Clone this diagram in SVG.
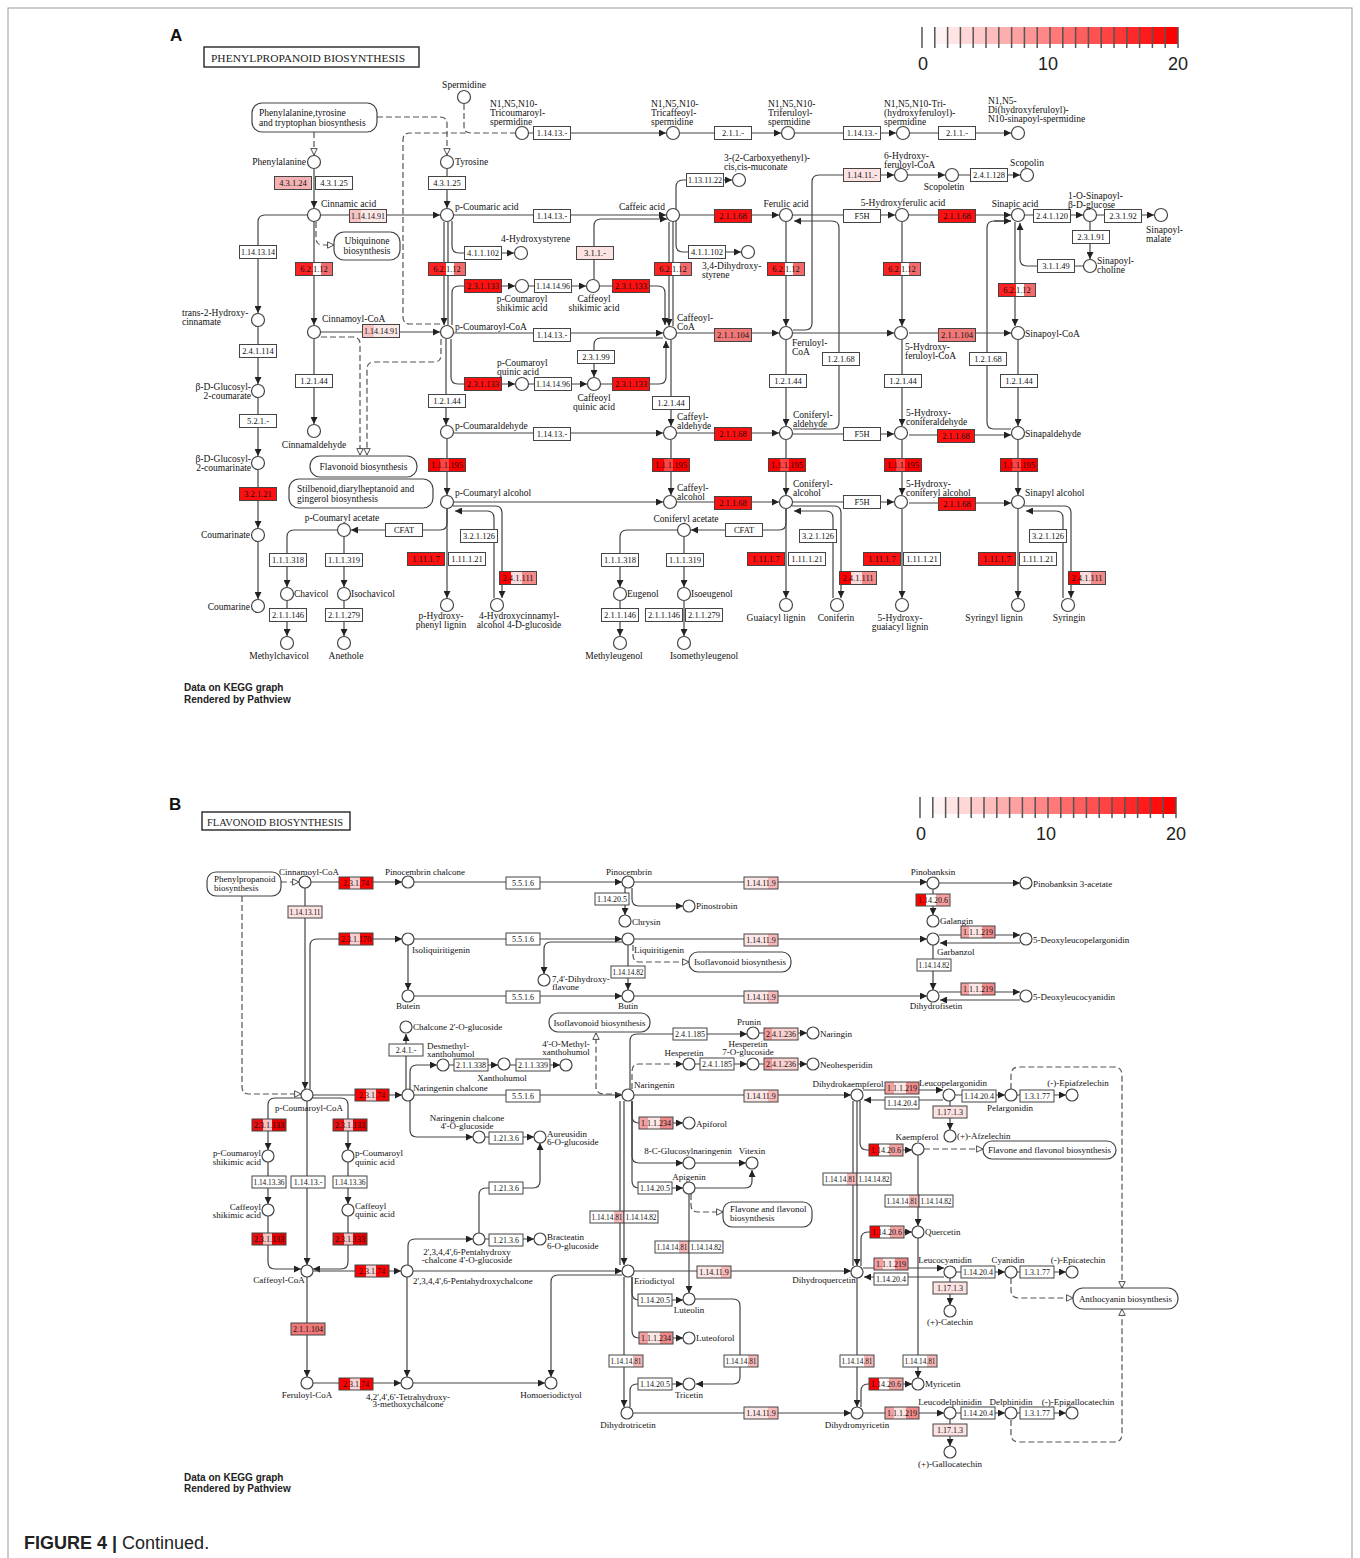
<svg xmlns="http://www.w3.org/2000/svg" xmlns:xlink="http://www.w3.org/1999/xlink" width="1360" height="1558" viewBox="0 0 1360 1558">
<style>
.ln{fill:none;stroke:#444;stroke-width:1.2}
.ds{fill:none;stroke:#555;stroke-width:1.2;stroke-dasharray:6,3}
.a{marker-end:url(#ar)}
.o{marker-end:url(#ao)}
.n circle{fill:#fff;stroke:#444;stroke-width:1.2}
.e rect{stroke:#444;stroke-width:1}
.e text{font-family:"Liberation Serif",serif;font-size:8.5px;text-anchor:middle;fill:#111}
.eb text{font-size:8px}
.l{font-family:"Liberation Serif",serif;font-size:9.5px;fill:#111}
.lb{font-family:"Liberation Serif",serif;font-size:9px;fill:#111}
.m{text-anchor:middle}
.r{text-anchor:end}
.mp rect{fill:#fff;stroke:#444;stroke-width:1.2}
.w{fill:#fff}.R{fill:#ff1010}.p{fill:#fde2e2}.s{fill:#f5b3b3}.S{fill:#f07878}
.k1{fill:url(#g6212)}.k2{fill:url(#g1195)}.k3{fill:url(#g241111)}.k4{fill:url(#g141491)}
.k5{fill:url(#g2374)}.k6{fill:url(#g23133)}.k7{fill:url(#g11419)}.k8{fill:url(#g14206)}
.k9{fill:url(#g1219)}.k11{fill:url(#g81)}.k12{fill:url(#g236)}
.tk{stroke:#555;stroke-width:1.5}
.lg{font-family:"Liberation Sans",Arial,sans-serif;font-size:18px;fill:#222;text-anchor:middle}
.kg{font-family:"Liberation Sans",Arial,sans-serif;font-size:10px;font-weight:bold;fill:#222}
</style>
<defs>
<marker id="ar" viewBox="0 0 8 8" refX="8" refY="4" markerWidth="7" markerHeight="7" markerUnits="userSpaceOnUse" orient="auto"><path d="M0,0 L8,4 L0,8 z" fill="#222"/></marker>
<marker id="ao" viewBox="0 0 10 10" refX="9" refY="5" markerWidth="8" markerHeight="8" markerUnits="userSpaceOnUse" orient="auto"><path d="M1,1 L9,5 L1,9 z" fill="#fff" stroke="#444" stroke-width="1.2"/></marker>
<linearGradient id="g6212"><stop offset="0" stop-color="#f22"/><stop offset=".48" stop-color="#f22"/><stop offset=".48" stop-color="#fff"/><stop offset=".7" stop-color="#fff"/><stop offset=".7" stop-color="#f46a6a"/><stop offset="1" stop-color="#f46a6a"/></linearGradient>
<linearGradient id="g1195"><stop offset="0" stop-color="#f00"/><stop offset=".3" stop-color="#f00"/><stop offset=".3" stop-color="#f44"/><stop offset=".55" stop-color="#f44"/><stop offset=".55" stop-color="#f00"/><stop offset="1" stop-color="#f00"/></linearGradient>
<linearGradient id="g241111"><stop offset="0" stop-color="#f00"/><stop offset=".3" stop-color="#f00"/><stop offset=".3" stop-color="#fbdcdc"/><stop offset=".6" stop-color="#fbdcdc"/><stop offset=".6" stop-color="#f28a8a"/><stop offset="1" stop-color="#f28a8a"/></linearGradient>
<linearGradient id="g141491"><stop offset="0" stop-color="#f7c2c2"/><stop offset=".3" stop-color="#f7c2c2"/><stop offset=".3" stop-color="#fde8e8"/><stop offset="1" stop-color="#fde8e8"/></linearGradient>
<linearGradient id="g2374"><stop offset="0" stop-color="#f00"/><stop offset=".33" stop-color="#f00"/><stop offset=".33" stop-color="#fcd0d0"/><stop offset=".62" stop-color="#fcd0d0"/><stop offset=".62" stop-color="#f00"/><stop offset="1" stop-color="#f00"/></linearGradient>
<linearGradient id="g23133"><stop offset="0" stop-color="#e81010"/><stop offset=".32" stop-color="#e81010"/><stop offset=".32" stop-color="#f9c4c4"/><stop offset=".6" stop-color="#f9c4c4"/><stop offset=".6" stop-color="#e80000"/><stop offset="1" stop-color="#e80000"/></linearGradient>
<linearGradient id="g11419"><stop offset="0" stop-color="#fde6e6"/><stop offset=".72" stop-color="#fde6e6"/><stop offset=".72" stop-color="#f8b8b8"/><stop offset="1" stop-color="#f8b8b8"/></linearGradient>
<linearGradient id="g14206"><stop offset="0" stop-color="#f00"/><stop offset=".3" stop-color="#f00"/><stop offset=".3" stop-color="#fff"/><stop offset=".6" stop-color="#fff"/><stop offset=".6" stop-color="#f4a0a0"/><stop offset="1" stop-color="#f4a0a0"/></linearGradient>
<linearGradient id="g1219"><stop offset="0" stop-color="#f4a0a0"/><stop offset=".25" stop-color="#f4a0a0"/><stop offset=".25" stop-color="#fde6e6"/><stop offset=".62" stop-color="#fde6e6"/><stop offset=".62" stop-color="#f08a8a"/><stop offset="1" stop-color="#f08a8a"/></linearGradient>
<linearGradient id="g81"><stop offset="0" stop-color="#fff"/><stop offset=".7" stop-color="#fff"/><stop offset=".7" stop-color="#f7b8b8"/><stop offset="1" stop-color="#f7b8b8"/></linearGradient>
<linearGradient id="g236"><stop offset="0" stop-color="#f29a9a"/><stop offset=".25" stop-color="#f29a9a"/><stop offset=".25" stop-color="#fbd0d0"/><stop offset="1" stop-color="#fbd0d0"/></linearGradient>
</defs>
<rect x="0" y="0" width="1360" height="1558" fill="#fff"/>
<rect x="8" y="8" width="1344" height="1570" fill="none" stroke="#999" stroke-width="1"/>

<!-- ============ PANEL A ============ -->
<text x="170" y="41" font-family="Liberation Sans,Arial,sans-serif" font-size="17" font-weight="bold" fill="#111">A</text>
<g id="titleA"><rect x="204" y="47" width="215" height="20" fill="#fff" stroke="#333" stroke-width="1.5"/><text x="211" y="61.5" font-family="Liberation Serif,serif" font-size="11" fill="#222" textLength="194" lengthAdjust="spacingAndGlyphs">PHENYLPROPANOID  BIOSYNTHESIS</text></g>

<g id="legendA">
<rect x="934.8" y="27" width="12.8" height="17" fill="#fff2f2"/><rect x="947.6" y="27" width="12.8" height="17" fill="#ffe4e4"/><rect x="960.4" y="27" width="12.8" height="17" fill="#ffd7d7"/><rect x="973.2" y="27" width="12.8" height="17" fill="#ffc9c9"/><rect x="986" y="27" width="12.8" height="17" fill="#ffbcbc"/><rect x="998.8" y="27" width="12.8" height="17" fill="#ffaeae"/><rect x="1011.6" y="27" width="12.8" height="17" fill="#ffa1a1"/><rect x="1024.4" y="27" width="12.8" height="17" fill="#ff9494"/><rect x="1037.2" y="27" width="12.8" height="17" fill="#ff8686"/><rect x="1050" y="27" width="12.8" height="17" fill="#ff7979"/><rect x="1062.8" y="27" width="12.8" height="17" fill="#ff6b6b"/><rect x="1075.6" y="27" width="12.8" height="17" fill="#ff5e5e"/><rect x="1088.4" y="27" width="12.8" height="17" fill="#ff5151"/><rect x="1101.2" y="27" width="12.8" height="17" fill="#ff4343"/><rect x="1114" y="27" width="12.8" height="17" fill="#ff3636"/><rect x="1126.8" y="27" width="12.8" height="17" fill="#ff2828"/><rect x="1139.6" y="27" width="12.8" height="17" fill="#ff1b1b"/><rect x="1152.4" y="27" width="12.8" height="17" fill="#ff0d0d"/><rect x="1165.2" y="27" width="12.8" height="17" fill="#ff0000"/>
<path class="tk" d="M922,27V48M934.8,27V48M947.6,27V48M960.4,27V48M973.2,27V48M986,27V48M998.8,27V48M1011.6,27V48M1024.4,27V48M1037.2,27V48M1050,27V48M1062.8,27V48M1075.6,27V48M1088.4,27V48M1101.2,27V48M1114,27V48M1126.8,27V48M1139.6,27V48M1152.4,27V48M1165.2,27V48M1178,27V48"/>
<text class="lg" x="923" y="70">0</text><text class="lg" x="1048" y="70">10</text><text class="lg" x="1178" y="70">20</text>
</g>

<g id="edgesA">
<path class="ds" d="M464,104V126Q464,133 471,133H515"/>
<path class="ds" d="M440,324H410Q403,324 403,317V140Q403,133 410,133H466"/>
<path class="ln a" d="M529,133H666"/>
<path class="ln a" d="M680,133H781"/>
<path class="ln a" d="M795,133H896"/>
<path class="ln a" d="M910,133H1011"/>
<path class="ds o" d="M314,132V155"/>
<path class="ds o" d="M377,117H440Q447,117 447,124V155"/>
<path class="ln a" d="M314,169V208"/>
<path class="ln a" d="M447,169V208"/>
<path class="ln a" d="M321,215H440"/>
<path class="ln a" d="M307,215H265Q258,215 258,222V313"/>
<path class="ds o" d="M316,222V238Q316,245 323,245H334"/>
<path class="ln a" d="M314,222V325"/>
<path class="ln a" d="M321,332H440"/>
<path class="ln a" d="M314,339V424"/>
<path class="ds o" d="M321,337H353Q360,337 360,344V455"/>
<path class="ds o" d="M441,339V355Q441,362 434,362H374Q367,362 367,369V455"/>
<path class="ln a" d="M444,222V325"/>
<path class="ln" d="M448,222V325"/>
<path class="ln a" d="M452,221V246Q452,253 459,253H514"/>
<path class="ln a" d="M452,325V293Q452,286 459,286H515"/>
<path class="ln a" d="M529,286H586"/>
<path class="ln a" d="M594,279V226Q594,219 601,219H667"/>
<path class="ln a" d="M600,286H658Q665,286 665,293V325"/>
<path class="ln a" d="M454,215H666"/>
<path class="ln a" d="M676,209V187Q676,180 683,180H732"/>
<path class="ln a" d="M676,221V245Q676,252 683,252H741"/>
<path class="ln a" d="M669,222V326"/>
<path class="ln" d="M673,222V326"/>
<path class="ln a" d="M680,215H779"/>
<path class="ln a" d="M793,215H895"/>
<path class="ln a" d="M909,215H1011"/>
<path class="ln a" d="M1025,215H1083"/>
<path class="ln a" d="M1097,215H1154"/>
<path class="ln a" d="M1090,222V259"/>
<path class="ln a" d="M1083,266H1027Q1020,266 1020,259V223"/>
<path class="ln a" d="M1015,222V326"/>
<path class="ln a" d="M786,222V326"/>
<path class="ln a" d="M902,222V326"/>
<path class="ln a" d="M793,330H805Q812,330 812,323V182Q812,175 819,175H894"/>
<path class="ln a" d="M908,175H945"/>
<path class="ln a" d="M959,175H1020"/>
<path class="ln a" d="M793,429H832Q839,429 839,422V228Q839,221 832,221H794"/>
<path class="ln" d="M1011,429H994Q987,429 987,422V228Q987,221 994,221H1011"/>
<path class="ln a" d="M994,221H1011"/>
<path class="ln a" d="M454,333H663"/>
<path class="ln a" d="M663,338H601Q594,338 594,345V377"/>
<path class="ln a" d="M451,339V377Q451,384 458,384H515"/>
<path class="ln a" d="M529,384H587"/>
<path class="ln a" d="M601,384H659Q666,384 666,377V341"/>
<path class="ln a" d="M677,333H779"/>
<path class="ln a" d="M793,333H894"/>
<path class="ln a" d="M909,333H1011"/>
<path class="ln a" d="M446,339V425"/>
<path class="ln a" d="M671,340V426"/>
<path class="ln a" d="M786,340V426"/>
<path class="ln a" d="M902,340V426"/>
<path class="ln a" d="M1018,340V426"/>
<path class="ln a" d="M454,433H663"/>
<path class="ln a" d="M677,433H779"/>
<path class="ln a" d="M793,434H894"/>
<path class="ln a" d="M909,435H1011"/>
<path class="ln a" d="M447,439V495"/>
<path class="ln a" d="M671,440V495"/>
<path class="ln a" d="M786,440V495"/>
<path class="ln a" d="M902,440V495"/>
<path class="ln a" d="M1018,440V495"/>
<path class="ln a" d="M454,502H663"/>
<path class="ln a" d="M677,502H779"/>
<path class="ln a" d="M793,502H894"/>
<path class="ln a" d="M909,503H1011"/>
<path class="ln a" d="M447,509V523Q447,530 440,530H351"/>
<path class="ln a" d="M337,530H294Q287,530 287,537V587"/>
<path class="ln a" d="M344,537V587"/>
<path class="ln a" d="M287,601V636"/>
<path class="ln a" d="M344,601V636"/>
<path class="ln a" d="M447,509V598"/>
<path class="ln a" d="M453,506H495Q502,506 502,513V598"/>
<path class="ln a" d="M494,598V518Q494,511 487,511H455"/>
<path class="ln a" d="M786,509V523Q786,530 779,530H691"/>
<path class="ln a" d="M677,530H627Q620,530 620,537V587"/>
<path class="ln a" d="M684,537V587"/>
<path class="ln a" d="M620,601V636"/>
<path class="ln a" d="M684,601V636"/>
<path class="ln a" d="M786,509V598"/>
<path class="ln a" d="M792,506H834Q841,506 841,513V598"/>
<path class="ln a" d="M833,598V518Q833,511 826,511H794"/>
<path class="ln a" d="M902,509V598"/>
<path class="ln a" d="M1018,509V598"/>
<path class="ln a" d="M1024,506H1064Q1071,506 1071,513V598"/>
<path class="ln a" d="M1063,598V518Q1063,511 1056,511H1026"/>
<path class="ln a" d="M258,327V384"/>
<path class="ln a" d="M258,398V456"/>
<path class="ln a" d="M258,470V528"/>
<path class="ln a" d="M258,542V599"/>
</g>

<g id="mapsA" class="mp">
<g id="mapPheTyr"><rect x="252" y="103" width="125" height="29" rx="10"/><text class="l" x="259" y="116">Phenylalanine,tyrosine</text><text class="l" x="259" y="126">and tryptophan biosynthesis</text></g>
<g id="mapUbiquinone"><rect x="334" y="232" width="66" height="28" rx="10"/><text class="l m" x="367" y="244">Ubiquinone</text><text class="l m" x="367" y="254">biosynthesis</text></g>
<g id="mapFlavonoidA"><rect x="310" y="456" width="107" height="21" rx="10"/><text class="l m" x="363.5" y="470">Flavonoid biosynthesis</text></g>
<g id="mapStilbenoid"><rect x="289" y="479" width="144" height="29" rx="10"/><text class="l" x="297" y="492">Stilbenoid,diarylheptanoid and</text><text class="l" x="297" y="502">gingerol biosynthesis</text></g>
</g>

<g id="enzymesA" class="e">
<g id="eA1"><rect class="w" x="533.5" y="126.5" width="37" height="13"/><text x="552" y="136">1.14.13.-</text></g>
<g id="eA2"><rect class="w" x="714.5" y="126.5" width="37" height="13"/><text x="733" y="136">2.1.1.-</text></g>
<g id="eA3"><rect class="w" x="843.5" y="126.5" width="37" height="13"/><text x="862" y="136">1.14.13.-</text></g>
<g id="eA4"><rect class="w" x="938.5" y="126.5" width="37" height="13"/><text x="957" y="136">2.1.1.-</text></g>
<g id="eA5"><rect class="s" x="274.5" y="176.5" width="37" height="13"/><text x="293" y="186">4.3.1.24</text></g>
<g id="eA6"><rect class="w" x="315.5" y="176.5" width="37" height="13"/><text x="334" y="186">4.3.1.25</text></g>
<g id="eA7"><rect class="w" x="428.5" y="176.5" width="37" height="13"/><text x="447" y="186">4.3.1.25</text></g>
<g id="eA8"><rect class="k4" x="349.5" y="209.5" width="37" height="13"/><text x="368" y="219" textLength="34" lengthAdjust="spacingAndGlyphs">1.14.14.91</text></g>
<g id="eA9"><rect class="w" x="239.5" y="245.5" width="37" height="13"/><text x="258" y="255" textLength="34" lengthAdjust="spacingAndGlyphs">1.14.13.14</text></g>
<g id="eA10"><rect class="k1" x="295.5" y="262.5" width="37" height="13"/><text x="314" y="272">6.2.1.12</text></g>
<g id="eA11"><rect class="k1" x="428.5" y="262.5" width="37" height="13"/><text x="447" y="272">6.2.1.12</text></g>
<g id="eA12"><rect class="w" x="464.5" y="246.5" width="37" height="13"/><text x="483" y="256">4.1.1.102</text></g>
<g id="eA13"><rect class="R" x="464.5" y="279.5" width="37" height="13"/><text x="483" y="289">2.3.1.133</text></g>
<g id="eA14"><rect class="w" x="534.5" y="279.5" width="37" height="13"/><text x="553" y="289" textLength="34" lengthAdjust="spacingAndGlyphs">1.14.14.96</text></g>
<g id="eA15"><rect class="p" x="576.5" y="246.5" width="37" height="13"/><text x="595" y="256">3.1.1.-</text></g>
<g id="eA16"><rect class="R" x="612.5" y="279.5" width="37" height="13"/><text x="631" y="289">2.3.1.133</text></g>
<g id="eA17"><rect class="w" x="533.5" y="209.5" width="37" height="13"/><text x="552" y="219">1.14.13.-</text></g>
<g id="eA18"><rect class="w" x="686.5" y="173.5" width="37" height="13"/><text x="705" y="183" textLength="34" lengthAdjust="spacingAndGlyphs">1.13.11.22</text></g>
<g id="eA19"><rect class="w" x="688.5" y="245.5" width="37" height="13"/><text x="707" y="255">4.1.1.102</text></g>
<g id="eA20"><rect class="k1" x="654.5" y="262.5" width="37" height="13"/><text x="673" y="272">6.2.1.12</text></g>
<g id="eA21"><rect class="R" x="714.5" y="209.5" width="37" height="13"/><text x="733" y="219">2.1.1.68</text></g>
<g id="eA22"><rect class="w" x="843.5" y="209.5" width="37" height="13"/><text x="862" y="219">F5H</text></g>
<g id="eA23"><rect class="R" x="938.5" y="209.5" width="37" height="13"/><text x="957" y="219">2.1.1.68</text></g>
<g id="eA24"><rect class="w" x="1033.5" y="209.5" width="37" height="13"/><text x="1052" y="219">2.4.1.120</text></g>
<g id="eA25"><rect class="w" x="1104.5" y="209.5" width="37" height="13"/><text x="1123" y="219">2.3.1.92</text></g>
<g id="eA26"><rect class="w" x="1072.5" y="230.5" width="37" height="13"/><text x="1091" y="240">2.3.1.91</text></g>
<g id="eA27"><rect class="w" x="1037.5" y="259.5" width="37" height="13"/><text x="1056" y="269">3.1.1.49</text></g>
<g id="eA28"><rect class="k1" x="998.5" y="283.5" width="37" height="13"/><text x="1017" y="293">6.2.1.12</text></g>
<g id="eA29"><rect class="k1" x="767.5" y="262.5" width="37" height="13"/><text x="786" y="272">6.2.1.12</text></g>
<g id="eA30"><rect class="k1" x="883.5" y="262.5" width="37" height="13"/><text x="902" y="272">6.2.1.12</text></g>
<g id="eA31"><rect class="p" x="843.5" y="168.5" width="37" height="13"/><text x="862" y="178">1.14.11.-</text></g>
<g id="eA32"><rect class="w" x="970.5" y="168.5" width="37" height="13"/><text x="989" y="178">2.4.1.128</text></g>
<g id="eA33"><rect class="w" x="822.5" y="352.5" width="37" height="13"/><text x="841" y="362">1.2.1.68</text></g>
<g id="eA34"><rect class="w" x="969.5" y="352.5" width="37" height="13"/><text x="988" y="362">1.2.1.68</text></g>
<g id="eA35"><rect class="k4" x="362.5" y="324.5" width="37" height="13"/><text x="381" y="334" textLength="34" lengthAdjust="spacingAndGlyphs">1.14.14.91</text></g>
<g id="eA36"><rect class="w" x="295.5" y="374.5" width="37" height="13"/><text x="314" y="384">1.2.1.44</text></g>
<g id="eA37"><rect class="w" x="533.5" y="328.5" width="37" height="13"/><text x="552" y="338">1.14.13.-</text></g>
<g id="eA38"><rect class="w" x="577.5" y="350.5" width="37" height="13"/><text x="596" y="360">2.3.1.99</text></g>
<g id="eA39"><rect class="R" x="464.5" y="377.5" width="37" height="13"/><text x="483" y="387">2.3.1.133</text></g>
<g id="eA40"><rect class="w" x="534.5" y="377.5" width="37" height="13"/><text x="553" y="387" textLength="34" lengthAdjust="spacingAndGlyphs">1.14.14.96</text></g>
<g id="eA41"><rect class="R" x="612.5" y="377.5" width="37" height="13"/><text x="631" y="387">2.3.1.133</text></g>
<g id="eA42"><rect class="S" x="714.5" y="328.5" width="37" height="13"/><text x="733" y="338">2.1.1.104</text></g>
<g id="eA43"><rect class="S" x="938.5" y="328.5" width="37" height="13"/><text x="957" y="338">2.1.1.104</text></g>
<g id="eA44"><rect class="w" x="428.5" y="394.5" width="37" height="13"/><text x="447" y="404">1.2.1.44</text></g>
<g id="eA45"><rect class="w" x="652.5" y="396.5" width="37" height="13"/><text x="671" y="406">1.2.1.44</text></g>
<g id="eA46"><rect class="w" x="769.5" y="374.5" width="37" height="13"/><text x="788" y="384">1.2.1.44</text></g>
<g id="eA47"><rect class="w" x="884.5" y="374.5" width="37" height="13"/><text x="903" y="384">1.2.1.44</text></g>
<g id="eA48"><rect class="w" x="1000.5" y="374.5" width="37" height="13"/><text x="1019" y="384">1.2.1.44</text></g>
<g id="eA49"><rect class="w" x="533.5" y="427.5" width="37" height="13"/><text x="552" y="437">1.14.13.-</text></g>
<g id="eA50"><rect class="R" x="714.5" y="427.5" width="37" height="13"/><text x="733" y="437">2.1.1.68</text></g>
<g id="eA51"><rect class="w" x="843.5" y="427.5" width="37" height="13"/><text x="862" y="437">F5H</text></g>
<g id="eA52"><rect class="R" x="937.5" y="429.5" width="37" height="13"/><text x="956" y="439">2.1.1.68</text></g>
<g id="eA53"><rect class="k2" x="428.5" y="458.5" width="37" height="13"/><text x="447" y="468">1.1.1.195</text></g>
<g id="eA54"><rect class="k2" x="652.5" y="458.5" width="37" height="13"/><text x="671" y="468">1.1.1.195</text></g>
<g id="eA55"><rect class="k2" x="768.5" y="458.5" width="37" height="13"/><text x="787" y="468">1.1.1.195</text></g>
<g id="eA56"><rect class="k2" x="884.5" y="458.5" width="37" height="13"/><text x="903" y="468">1.1.1.195</text></g>
<g id="eA57"><rect class="k2" x="1000.5" y="458.5" width="37" height="13"/><text x="1019" y="468">1.1.1.195</text></g>
<g id="eA58"><rect class="R" x="714.5" y="496.5" width="37" height="13"/><text x="733" y="506">2.1.1.68</text></g>
<g id="eA59"><rect class="w" x="843.5" y="495.5" width="37" height="13"/><text x="862" y="505">F5H</text></g>
<g id="eA60"><rect class="R" x="938.5" y="497.5" width="37" height="13"/><text x="957" y="507">2.1.1.68</text></g>
<g id="eA61"><rect class="w" x="385.5" y="523.5" width="37" height="13"/><text x="404" y="533">CFAT</text></g>
<g id="eA62"><rect class="w" x="269.5" y="553.5" width="37" height="13"/><text x="288" y="563">1.1.1.318</text></g>
<g id="eA63"><rect class="w" x="325.5" y="553.5" width="37" height="13"/><text x="344" y="563">1.1.1.319</text></g>
<g id="eA64"><rect class="w" x="269.5" y="608.5" width="37" height="13"/><text x="288" y="618">2.1.1.146</text></g>
<g id="eA65"><rect class="w" x="325.5" y="608.5" width="37" height="13"/><text x="344" y="618">2.1.1.279</text></g>
<g id="eA66"><rect class="R" x="407.5" y="552.5" width="37" height="13"/><text x="426" y="562">1.11.1.7</text></g>
<g id="eA67"><rect class="w" x="448.5" y="552.5" width="37" height="13"/><text x="467" y="562">1.11.1.21</text></g>
<g id="eA68"><rect class="w" x="460.5" y="529.5" width="37" height="13"/><text x="479" y="539">3.2.1.126</text></g>
<g id="eA69"><rect class="k3" x="499.5" y="571.5" width="37" height="13"/><text x="518" y="581">2.4.1.111</text></g>
<g id="eA70"><rect class="w" x="725.5" y="523.5" width="37" height="13"/><text x="744" y="533">CFAT</text></g>
<g id="eA71"><rect class="w" x="601.5" y="553.5" width="37" height="13"/><text x="620" y="563">1.1.1.318</text></g>
<g id="eA72"><rect class="w" x="666.5" y="553.5" width="37" height="13"/><text x="685" y="563">1.1.1.319</text></g>
<g id="eA73"><rect class="w" x="601.5" y="608.5" width="37" height="13"/><text x="620" y="618">2.1.1.146</text></g>
<g id="eA74"><rect class="w" x="645.5" y="608.5" width="37" height="13"/><text x="664" y="618">2.1.1.146</text></g>
<g id="eA75"><rect class="w" x="685.5" y="608.5" width="37" height="13"/><text x="704" y="618">2.1.1.279</text></g>
<g id="eA76"><rect class="R" x="747.5" y="552.5" width="37" height="13"/><text x="766" y="562">1.11.1.7</text></g>
<g id="eA77"><rect class="w" x="788.5" y="552.5" width="37" height="13"/><text x="807" y="562">1.11.1.21</text></g>
<g id="eA78"><rect class="w" x="799.5" y="529.5" width="37" height="13"/><text x="818" y="539">3.2.1.126</text></g>
<g id="eA79"><rect class="k3" x="839.5" y="571.5" width="37" height="13"/><text x="858" y="581">2.4.1.111</text></g>
<g id="eA80"><rect class="R" x="863.5" y="552.5" width="37" height="13"/><text x="882" y="562">1.11.1.7</text></g>
<g id="eA81"><rect class="w" x="903.5" y="552.5" width="37" height="13"/><text x="922" y="562">1.11.1.21</text></g>
<g id="eA82"><rect class="R" x="978.5" y="552.5" width="37" height="13"/><text x="997" y="562">1.11.1.7</text></g>
<g id="eA83"><rect class="w" x="1019.5" y="552.5" width="37" height="13"/><text x="1038" y="562">1.11.1.21</text></g>
<g id="eA84"><rect class="w" x="1029.5" y="529.5" width="37" height="13"/><text x="1048" y="539">3.2.1.126</text></g>
<g id="eA85"><rect class="k3" x="1068.5" y="571.5" width="37" height="13"/><text x="1087" y="581">2.4.1.111</text></g>
<g id="eA86"><rect class="w" x="239.5" y="344.5" width="37" height="13"/><text x="258" y="354">2.4.1.114</text></g>
<g id="eA87"><rect class="w" x="239.5" y="414.5" width="37" height="13"/><text x="258" y="424">5.2.1.-</text></g>
<g id="eA88"><rect class="R" x="239.5" y="487.5" width="37" height="13"/><text x="258" y="497">3.2.1.21</text></g>
</g>

<g id="nodesA" class="n">
<g id="nSpermidine"><circle cx="464" cy="97" r="6.5"/><text class="l m" x="464" y="88">Spermidine</text></g>
<g id="nTricoumaroyl"><circle cx="522" cy="133" r="6.5"/><text class="l" x="490" y="107">N1,N5,N10-</text><text class="l" x="490" y="116">Tricoumaroyl-</text><text class="l" x="490" y="125">spermidine</text></g>
<g id="nTricaffeoyl"><circle cx="673" cy="133" r="6.5"/><text class="l" x="651" y="107">N1,N5,N10-</text><text class="l" x="651" y="116">Tricaffeoyl-</text><text class="l" x="651" y="125">spermidine</text></g>
<g id="nTriferuloyl"><circle cx="788" cy="133" r="6.5"/><text class="l" x="768" y="107">N1,N5,N10-</text><text class="l" x="768" y="116">Triferuloyl-</text><text class="l" x="768" y="125">spermidine</text></g>
<g id="nTriHydroxyferuloyl"><circle cx="903" cy="133" r="6.5"/><text class="l" x="884" y="107">N1,N5,N10-Tri-</text><text class="l" x="884" y="116">(hydroxyferuloyl)-</text><text class="l" x="884" y="125">spermidine</text></g>
<g id="nDiHydroxyferuloyl"><circle cx="1018" cy="133" r="6.5"/><text class="l" x="988" y="104">N1,N5-</text><text class="l" x="988" y="113">Di(hydroxyferuloyl)-</text><text class="l" x="988" y="122">N10-sinapoyl-spermidine</text></g>
<g id="nPhenylalanine"><circle cx="314" cy="162" r="6.5"/><text class="l r" x="306" y="165">Phenylalanine</text></g>
<g id="nTyrosine"><circle cx="447" cy="162" r="6.5"/><text class="l" x="455" y="165">Tyrosine</text></g>
<g id="nCinnamic"><circle cx="314" cy="215" r="6.5"/><text class="l" x="321" y="207">Cinnamic acid</text></g>
<g id="nPCoumaric"><circle cx="447" cy="215" r="6.5"/><text class="l" x="455" y="210">p-Coumaric acid</text></g>
<g id="nHydroxystyrene"><circle cx="521" cy="253" r="6.5"/><text class="l" x="501" y="242">4-Hydroxystyrene</text></g>
<g id="nTrans2"><circle cx="258" cy="320" r="6.5"/><text class="l" x="182" y="316">trans-2-Hydroxy-</text><text class="l" x="182" y="325">cinnamate</text></g>
<g id="nCinnamoylCoA"><circle cx="314" cy="332" r="6.5"/><text class="l" x="322" y="322">Cinnamoyl-CoA</text></g>
<g id="nPCoumaroylCoA"><circle cx="447" cy="332" r="6.5"/><text class="l" x="455" y="330">p-Coumaroyl-CoA</text></g>
<g id="nPCShikimic"><circle cx="522" cy="286" r="6.5"/><text class="l m" x="522" y="302">p-Coumaroyl</text><text class="l m" x="522" y="311">shikimic acid</text></g>
<g id="nCafShikimic"><circle cx="593" cy="286" r="6.5"/><text class="l m" x="594" y="302">Caffeoyl</text><text class="l m" x="594" y="311">shikimic acid</text></g>
<g id="nCaffeic"><circle cx="673" cy="215" r="6.5"/><text class="l r" x="665" y="210">Caffeic acid</text></g>
<g id="nCarboxy"><circle cx="739" cy="180" r="6.5"/><text class="l" x="724" y="161">3-(2-Carboxyethenyl)-</text><text class="l" x="724" y="170">cis,cis-muconate</text></g>
<g id="nDihydroxystyrene"><circle cx="748" cy="252" r="6.5"/><text class="l" x="702" y="269">3,4-Dihydroxy-</text><text class="l" x="702" y="278">styrene</text></g>
<g id="nFerulic"><circle cx="786" cy="215" r="6.5"/><text class="l m" x="786" y="207">Ferulic acid</text></g>
<g id="nHydroxyferulic"><circle cx="902" cy="215" r="6.5"/><text class="l m" x="903" y="206">5-Hydroxyferulic acid</text></g>
<g id="nSinapic"><circle cx="1018" cy="215" r="6.5"/><text class="l m" x="1015" y="207">Sinapic acid</text></g>
<g id="nSinapoylGlucose"><circle cx="1090" cy="215" r="6.5"/><text class="l" x="1068" y="199">1-O-Sinapoyl-</text><text class="l" x="1068" y="208">β-D-glucose</text></g>
<g id="nSinapoylMalate"><circle cx="1161" cy="215" r="6.5"/><text class="l" x="1146" y="233">Sinapoyl-</text><text class="l" x="1146" y="242">malate</text></g>
<g id="nSinapoylCholine"><circle cx="1090" cy="266" r="6.5"/><text class="l" x="1097" y="264">Sinapoyl-</text><text class="l" x="1097" y="273">choline</text></g>
<g id="nHydroxyFeruloylCoA6"><circle cx="901" cy="175" r="6.5"/><text class="l" x="884" y="159">6-Hydroxy-</text><text class="l" x="884" y="168">feruloyl-CoA</text></g>
<g id="nScopoletin"><circle cx="952" cy="175" r="6.5"/><text class="l m" x="944" y="190">Scopoletin</text></g>
<g id="nScopolin"><circle cx="1027" cy="175" r="6.5"/><text class="l m" x="1027" y="166">Scopolin</text></g>
<g id="nCaffeoylCoA"><circle cx="670" cy="333" r="6.5"/><text class="l" x="677" y="321">Caffeoyl-</text><text class="l" x="677" y="330">CoA</text></g>
<g id="nFeruloylCoA"><circle cx="786" cy="333" r="6.5"/><text class="l" x="792" y="346">Feruloyl-</text><text class="l" x="792" y="355">CoA</text></g>
<g id="nHFCoA"><circle cx="901" cy="333" r="6.5"/><text class="l" x="905" y="350">5-Hydroxy-</text><text class="l" x="905" y="359">feruloyl-CoA</text></g>
<g id="nSinapoylCoA"><circle cx="1018" cy="333" r="6.5"/><text class="l" x="1025" y="337">Sinapoyl-CoA</text></g>
<g id="nPCQuinic"><circle cx="522" cy="384" r="6.5"/><text class="l" x="497" y="366">p-Coumaroyl</text><text class="l" x="497" y="375">quinic acid</text></g>
<g id="nCafQuinic"><circle cx="594" cy="384" r="6.5"/><text class="l m" x="594" y="401">Caffeoyl</text><text class="l m" x="594" y="410">quinic acid</text></g>
<g id="nCinnamaldehyde"><circle cx="314" cy="431" r="6.5"/><text class="l m" x="314" y="448">Cinnamaldehyde</text></g>
<g id="nPCoumaraldehyde"><circle cx="447" cy="432" r="6.5"/><text class="l" x="455" y="429">p-Coumaraldehyde</text></g>
<g id="nCaffeylAldehyde"><circle cx="670" cy="433" r="6.5"/><text class="l" x="677" y="420">Caffeyl-</text><text class="l" x="677" y="429">aldehyde</text></g>
<g id="nConiferylAldehyde"><circle cx="786" cy="433" r="6.5"/><text class="l" x="793" y="418">Coniferyl-</text><text class="l" x="793" y="427">aldehyde</text></g>
<g id="nHCAldehyde"><circle cx="901" cy="433" r="6.5"/><text class="l" x="906" y="416">5-Hydroxy-</text><text class="l" x="906" y="425">coniferaldehyde</text></g>
<g id="nSinapaldehyde"><circle cx="1018" cy="433" r="6.5"/><text class="l" x="1025" y="437">Sinapaldehyde</text></g>
<g id="nPCAlcohol"><circle cx="447" cy="502" r="6.5"/><text class="l" x="455" y="496">p-Coumaryl alcohol</text></g>
<g id="nCaffeylAlcohol"><circle cx="670" cy="502" r="6.5"/><text class="l" x="677" y="491">Caffeyl-</text><text class="l" x="677" y="500">alcohol</text></g>
<g id="nConiferylAlcohol"><circle cx="786" cy="502" r="6.5"/><text class="l" x="793" y="487">Coniferyl-</text><text class="l" x="793" y="496">alcohol</text></g>
<g id="nHCAlcohol"><circle cx="901" cy="502" r="6.5"/><text class="l" x="906" y="487">5-Hydroxy-</text><text class="l" x="906" y="496">coniferyl alcohol</text></g>
<g id="nSinapylAlcohol"><circle cx="1018" cy="502" r="6.5"/><text class="l" x="1025" y="496">Sinapyl alcohol</text></g>
<g id="nPCAcetate"><circle cx="344" cy="530" r="6.5"/><text class="l m" x="342" y="521">p-Coumaryl acetate</text></g>
<g id="nConiferylAcetate"><circle cx="684" cy="530" r="6.5"/><text class="l m" x="686" y="522">Coniferyl acetate</text></g>
<g id="nChavicol"><circle cx="287" cy="594" r="6.5"/><text class="l" x="294" y="597">Chavicol</text></g>
<g id="nIsochavicol"><circle cx="344" cy="594" r="6.5"/><text class="l" x="351" y="597">Isochavicol</text></g>
<g id="nMethylchavicol"><circle cx="287" cy="643" r="6.5"/><text class="l m" x="279" y="659">Methylchavicol</text></g>
<g id="nAnethole"><circle cx="344" cy="643" r="6.5"/><text class="l m" x="346" y="659">Anethole</text></g>
<g id="nPHLignin"><circle cx="447" cy="605" r="6.5"/><text class="l m" x="441" y="619">p-Hydroxy-</text><text class="l m" x="441" y="628">phenyl lignin</text></g>
<g id="nHCAGlucoside"><circle cx="497" cy="605" r="6.5"/><text class="l m" x="519" y="619">4-Hydroxycinnamyl-</text><text class="l m" x="519" y="628">alcohol 4-D-glucoside</text></g>
<g id="nEugenol"><circle cx="620" cy="594" r="6.5"/><text class="l" x="627" y="597">Eugenol</text></g>
<g id="nIsoeugenol"><circle cx="684" cy="594" r="6.5"/><text class="l" x="691" y="597">Isoeugenol</text></g>
<g id="nMethyleugenol"><circle cx="620" cy="643" r="6.5"/><text class="l m" x="614" y="659">Methyleugenol</text></g>
<g id="nIsomethyleugenol"><circle cx="684" cy="643" r="6.5"/><text class="l m" x="704" y="659">Isomethyleugenol</text></g>
<g id="nGuaiacyl"><circle cx="786" cy="605" r="6.5"/><text class="l m" x="776" y="621">Guaiacyl lignin</text></g>
<g id="nConiferin"><circle cx="837" cy="605" r="6.5"/><text class="l m" x="836" y="621">Coniferin</text></g>
<g id="nHGLignin"><circle cx="902" cy="605" r="6.5"/><text class="l m" x="900" y="621">5-Hydroxy-</text><text class="l m" x="900" y="630">guaiacyl lignin</text></g>
<g id="nSyringyl"><circle cx="1018" cy="605" r="6.5"/><text class="l m" x="994" y="621">Syringyl lignin</text></g>
<g id="nSyringin"><circle cx="1068" cy="605" r="6.5"/><text class="l m" x="1069" y="621">Syringin</text></g>
<g id="nGlucosylCoumarate"><circle cx="258" cy="391" r="6.5"/><text class="l r" x="251" y="390">β-D-Glucosyl-</text><text class="l r" x="251" y="399">2-coumarate</text></g>
<g id="nGlucosylCoumarinate"><circle cx="258" cy="463" r="6.5"/><text class="l r" x="251" y="462">β-D-Glucosyl-</text><text class="l r" x="251" y="471">2-coumarinate</text></g>
<g id="nCoumarinate"><circle cx="258" cy="535" r="6.5"/><text class="l r" x="250" y="538">Coumarinate</text></g>
<g id="nCoumarine"><circle cx="258" cy="606" r="6.5"/><text class="l r" x="250" y="610">Coumarine</text></g>
</g>
<text class="kg" x="184" y="691">Data on KEGG graph</text>
<text class="kg" x="184" y="703">Rendered by Pathview</text>

<!-- ============ PANEL B ============ -->
<text x="169" y="810" font-family="Liberation Sans,Arial,sans-serif" font-size="17" font-weight="bold" fill="#111">B</text>
<g id="titleB"><rect x="202" y="812" width="148" height="18" fill="#fff" stroke="#333" stroke-width="1.5"/><text x="207" y="825.5" font-family="Liberation Serif,serif" font-size="10.5" fill="#222" textLength="136" lengthAdjust="spacingAndGlyphs">FLAVONOID  BIOSYNTHESIS</text></g>
<use id="legendB" href="#legendA" xlink:href="#legendA" transform="translate(-2,770)"/>

<g id="edgesB">
<path class="ds o" d="M281,882H299"/>
<path class="ds o" d="M242,896V1087Q242,1094 249,1094H301"/>
<path class="ln a" d="M311,882H402"/>
<path class="ln a" d="M414,882H622"/>
<path class="ln a" d="M305,888V1089"/>
<path class="ln a" d="M310,1089V946Q310,939 317,939H402"/>
<path class="ln a" d="M414,939H622"/>
<path class="ln a" d="M408,945V990"/>
<path class="ln a" d="M414,996H622"/>
<path class="ln a" d="M628,945V990"/>
<path class="ln a" d="M622,942H551Q544,942 544,949V974"/>
<path class="ds o" d="M633,945V955Q633,962 640,962H689"/>
<path class="ln a" d="M634,882H927"/>
<path class="ln a" d="M939,883H1020"/>
<path class="ln a" d="M933,889V915"/>
<path class="ln a" d="M625,888V915"/>
<path class="ln a" d="M632,888V899Q632,906 639,906H683"/>
<path class="ln a" d="M634,939H927"/>
<path class="ln a" d="M939,935H1020"/>
<path class="ln a" d="M1020,943H940"/>
<path class="ln a" d="M933,945V990"/>
<path class="ln a" d="M634,996H927"/>
<path class="ln a" d="M939,992H1020"/>
<path class="ln a" d="M1020,1000H940"/>
<path class="ln a" d="M313,1095H402"/>
<path class="ln a" d="M414,1095H622"/>
<path class="ln a" d="M406,1089V1034"/>
<path class="ln a" d="M410,1089V1072Q410,1065 417,1065H437"/>
<path class="ln a" d="M449,1065H498"/>
<path class="ln a" d="M510,1065H560"/>
<path class="ln a" d="M410,1101V1130Q410,1137 417,1137H473"/>
<path class="ln a" d="M485,1137H534"/>
<path class="ds o" d="M621,1094H604Q596,1094 596,1086V1033"/>
<path class="ln a" d="M630,1089V1041Q630,1034 637,1034H747"/>
<path class="ln a" d="M759,1033H807"/>
<path class="ds a" d="M632,1089V1071Q632,1064 639,1064H683"/>
<path class="ln a" d="M695,1064H747"/>
<path class="ln a" d="M759,1064H807"/>
<path class="ln a" d="M634,1095H851"/>
<path class="ln a" d="M632,1101V1116Q632,1123 639,1123H683"/>
<path class="ln a" d="M632,1101V1156Q632,1163 639,1163H683"/>
<path class="ln a" d="M695,1163H746"/>
<path class="ln a" d="M632,1101V1181Q632,1188 639,1188H683"/>
<path class="ln a" d="M695,1188H745Q752,1188 752,1181V1170"/>
<path class="ds o" d="M691,1194V1205Q691,1212 698,1212H723"/>
<path class="ln a" d="M689,1194V1293"/>
<path class="ln a" d="M624,1101V1265"/>
<path class="ln" d="M620,1101V1265"/>
<path class="ln a" d="M624,1277V1407"/>
<path class="ln a" d="M632,1277V1293Q632,1300 639,1300H683"/>
<path class="ln a" d="M632,1277V1331Q632,1338 639,1338H683"/>
<path class="ln a" d="M695,1299H733Q740,1299 740,1306V1377Q740,1384 733,1384H696"/>
<path class="ln a" d="M630,1407V1391Q630,1384 637,1384H683"/>
<path class="ln a" d="M633,1413H851"/>
<path class="ln a" d="M634,1271H851"/>
<path class="ln a" d="M413,1271H622"/>
<path class="ln a" d="M622,1275H558Q551,1275 551,1282V1377"/>
<path class="ln a" d="M301,1098H275Q268,1098 268,1105V1150"/>
<path class="ln a" d="M313,1098H341Q348,1098 348,1105V1150"/>
<path class="ln a" d="M268,1162V1204"/>
<path class="ln a" d="M307,1101V1265"/>
<path class="ln a" d="M348,1162V1204"/>
<path class="ln a" d="M268,1216V1262Q268,1269 275,1269H301"/>
<path class="ln a" d="M348,1216V1262Q348,1269 341,1269H313"/>
<path class="ln a" d="M313,1271H401"/>
<path class="ln a" d="M408,1265V1246Q408,1239 415,1239H473"/>
<path class="ln a" d="M485,1239H534"/>
<path class="ln a" d="M479,1233V1195Q479,1188 486,1188H533Q540,1188 540,1181V1143"/>
<path class="ln a" d="M307,1277V1377"/>
<path class="ln a" d="M313,1383H401"/>
<path class="ln a" d="M407,1277V1377"/>
<path class="ln a" d="M413,1383H545"/>
<path class="ln a" d="M863,1090H943"/>
<path class="ln a" d="M943,1100H864"/>
<path class="ln a" d="M955,1095H1005"/>
<path class="ln a" d="M1017,1095H1066"/>
<path class="ln a" d="M950,1101V1130"/>
<path class="ds o" d="M1011,1089V1075Q1011,1067 1019,1067H1114Q1122,1067 1122,1075V1288"/>
<path class="ln a" d="M860,1101V1143Q860,1150 867,1150H912"/>
<path class="ds o" d="M924,1149H983"/>
<path class="ln a" d="M857,1101V1266"/>
<path class="ln" d="M853,1101V1266"/>
<path class="ln a" d="M918,1155V1226"/>
<path class="ln a" d="M861,1266V1239Q861,1232 868,1232H912"/>
<path class="ln a" d="M863,1268H944"/>
<path class="ln a" d="M944,1277H864"/>
<path class="ln a" d="M956,1272H1005"/>
<path class="ln a" d="M1017,1272H1066"/>
<path class="ln a" d="M950,1278V1305"/>
<path class="ds o" d="M1011,1278V1290Q1011,1298 1019,1298H1073"/>
<path class="ln a" d="M918,1238V1378"/>
<path class="ln a" d="M857,1278V1407"/>
<path class="ln a" d="M861,1407V1391Q861,1384 868,1384H912"/>
<path class="ln a" d="M863,1413H944"/>
<path class="ln a" d="M956,1413H1005"/>
<path class="ln a" d="M1017,1413H1066"/>
<path class="ln a" d="M950,1419V1446"/>
<path class="ds o" d="M1011,1420V1434Q1011,1442 1019,1442H1114Q1122,1442 1122,1434V1309"/>
</g>

<g id="mapsB" class="mp">
<g id="mapPhenylpropanoid"><rect x="207" y="872" width="74" height="24" rx="9"/><text class="lb" x="214" y="882">Phenylpropanoid</text><text class="lb" x="214" y="891">biosynthesis</text></g>
<g id="mapIsoflavonoid1"><rect x="689" y="952" width="102" height="20" rx="9"/><text class="lb m" x="740" y="965">Isoflavonoid biosynthesis</text></g>
<g id="mapIsoflavonoid2"><rect x="549" y="1013" width="101" height="19" rx="9"/><text class="lb m" x="599.5" y="1026">Isoflavonoid biosynthesis</text></g>
<g id="mapFlavone1"><rect x="983" y="1141" width="133" height="18" rx="9"/><text class="lb m" x="1049.5" y="1153">Flavone and flavonol biosynthesis</text></g>
<g id="mapFlavone2"><rect x="723" y="1202" width="89" height="25" rx="9"/><text class="lb" x="730" y="1212">Flavone and flavonol</text><text class="lb" x="730" y="1221">biosynthesis</text></g>
<g id="mapAnthocyanin"><rect x="1073" y="1288" width="105" height="21" rx="10"/><text class="lb m" x="1125.5" y="1302">Anthocyanin biosynthesis</text></g>
</g>

<g id="enzymesB" class="e eb">
<g id="eB1"><rect class="k5" x="339" y="877" width="34" height="12"/><text x="356" y="886">2.3.1.74</text></g>
<g id="eB2"><rect class="w" x="506" y="877" width="34" height="12"/><text x="523" y="886">5.5.1.6</text></g>
<g id="eB3"><rect class="p" x="288" y="906" width="34" height="12"/><text x="305" y="915" textLength="31" lengthAdjust="spacingAndGlyphs">1.14.13.11</text></g>
<g id="eB4"><rect class="k5" x="339" y="933" width="34" height="12"/><text x="356" y="942">2.3.1.170</text></g>
<g id="eB5"><rect class="w" x="506" y="933" width="34" height="12"/><text x="523" y="942">5.5.1.6</text></g>
<g id="eB6"><rect class="w" x="506" y="991" width="34" height="12"/><text x="523" y="1000">5.5.1.6</text></g>
<g id="eB7"><rect class="w" x="611" y="966" width="34" height="12"/><text x="628" y="975" textLength="31" lengthAdjust="spacingAndGlyphs">1.14.14.82</text></g>
<g id="eB8"><rect class="k7" x="744" y="877" width="34" height="12"/><text x="761" y="886">1.14.11.9</text></g>
<g id="eB9"><rect class="k8" x="916" y="894" width="34" height="12"/><text x="933" y="903">1.14.20.6</text></g>
<g id="eB10"><rect class="w" x="595" y="893" width="34" height="12"/><text x="612" y="902">1.14.20.5</text></g>
<g id="eB11"><rect class="k7" x="744" y="934" width="34" height="12"/><text x="761" y="943">1.14.11.9</text></g>
<g id="eB12"><rect class="k9" x="961" y="926" width="34" height="12"/><text x="978" y="935">1.1.1.219</text></g>
<g id="eB13"><rect class="w" x="917" y="959" width="34" height="12"/><text x="934" y="968" textLength="31" lengthAdjust="spacingAndGlyphs">1.14.14.82</text></g>
<g id="eB14"><rect class="k7" x="744" y="991" width="34" height="12"/><text x="761" y="1000">1.14.11.9</text></g>
<g id="eB15"><rect class="k9" x="961" y="983" width="34" height="12"/><text x="978" y="992">1.1.1.219</text></g>
<g id="eB16"><rect class="k5" x="355" y="1089" width="34" height="12"/><text x="372" y="1098">2.3.1.74</text></g>
<g id="eB17"><rect class="w" x="506" y="1090" width="34" height="12"/><text x="523" y="1099">5.5.1.6</text></g>
<g id="eB18"><rect class="w" x="389" y="1044" width="34" height="12"/><text x="406" y="1053">2.4.1.-</text></g>
<g id="eB19"><rect class="w" x="454" y="1059" width="34" height="12"/><text x="471" y="1068">2.1.1.338</text></g>
<g id="eB20"><rect class="w" x="516" y="1059" width="34" height="12"/><text x="533" y="1068">2.1.1.339</text></g>
<g id="eB21"><rect class="w" x="489" y="1132" width="34" height="12"/><text x="506" y="1141">1.21.3.6</text></g>
<g id="eB22"><rect class="w" x="673" y="1028" width="34" height="12"/><text x="690" y="1037">2.4.1.185</text></g>
<g id="eB23"><rect class="k12" x="764" y="1028" width="34" height="12"/><text x="781" y="1037">2.4.1.236</text></g>
<g id="eB24"><rect class="w" x="700" y="1058" width="34" height="12"/><text x="717" y="1067">2.4.1.185</text></g>
<g id="eB25"><rect class="k12" x="764" y="1058" width="34" height="12"/><text x="781" y="1067">2.4.1.236</text></g>
<g id="eB26"><rect class="k7" x="744" y="1090" width="34" height="12"/><text x="761" y="1099">1.14.11.9</text></g>
<g id="eB27"><rect class="k9" x="639" y="1117" width="34" height="12"/><text x="656" y="1126">1.1.1.234</text></g>
<g id="eB28"><rect class="w" x="638" y="1182" width="34" height="12"/><text x="655" y="1191">1.14.20.5</text></g>
<g id="eB29"><rect class="k11" x="655" y="1241" width="34" height="12"/><text x="672" y="1250" textLength="31" lengthAdjust="spacingAndGlyphs">1.14.14.81</text></g>
<g id="eB30"><rect class="w" x="689" y="1241" width="34" height="12"/><text x="706" y="1250" textLength="31" lengthAdjust="spacingAndGlyphs">1.14.14.82</text></g>
<g id="eB31"><rect class="k11" x="590" y="1211" width="34" height="12"/><text x="607" y="1220" textLength="31" lengthAdjust="spacingAndGlyphs">1.14.14.81</text></g>
<g id="eB32"><rect class="w" x="624" y="1211" width="34" height="12"/><text x="641" y="1220" textLength="31" lengthAdjust="spacingAndGlyphs">1.14.14.82</text></g>
<g id="eB33"><rect class="k11" x="609" y="1355" width="34" height="12"/><text x="626" y="1364" textLength="31" lengthAdjust="spacingAndGlyphs">1.14.14.81</text></g>
<g id="eB34"><rect class="w" x="638" y="1294" width="34" height="12"/><text x="655" y="1303">1.14.20.5</text></g>
<g id="eB35"><rect class="k9" x="639" y="1332" width="34" height="12"/><text x="656" y="1341">1.1.1.234</text></g>
<g id="eB36"><rect class="k11" x="724" y="1355" width="34" height="12"/><text x="741" y="1364" textLength="31" lengthAdjust="spacingAndGlyphs">1.14.14.81</text></g>
<g id="eB37"><rect class="w" x="638" y="1378" width="34" height="12"/><text x="655" y="1387">1.14.20.5</text></g>
<g id="eB38"><rect class="k7" x="744" y="1407" width="34" height="12"/><text x="761" y="1416">1.14.11.9</text></g>
<g id="eB39"><rect class="k7" x="697" y="1266" width="34" height="12"/><text x="714" y="1275">1.14.11.9</text></g>
<g id="eB40"><rect class="k6" x="252" y="1119" width="34" height="12"/><text x="269" y="1128">2.3.1.133</text></g>
<g id="eB41"><rect class="k6" x="333" y="1119" width="34" height="12"/><text x="350" y="1128">2.3.1.133</text></g>
<g id="eB42"><rect class="w" x="252" y="1176" width="34" height="12"/><text x="269" y="1185" textLength="31" lengthAdjust="spacingAndGlyphs">1.14.13.36</text></g>
<g id="eB43"><rect class="w" x="291" y="1176" width="34" height="12"/><text x="308" y="1185">1.14.13.-</text></g>
<g id="eB44"><rect class="w" x="333" y="1176" width="34" height="12"/><text x="350" y="1185" textLength="31" lengthAdjust="spacingAndGlyphs">1.14.13.36</text></g>
<g id="eB45"><rect class="k6" x="252" y="1233" width="34" height="12"/><text x="269" y="1242">2.3.1.133</text></g>
<g id="eB46"><rect class="k6" x="333" y="1233" width="34" height="12"/><text x="350" y="1242">2.3.1.133</text></g>
<g id="eB47"><rect class="k5" x="355" y="1265" width="34" height="12"/><text x="372" y="1274">2.3.1.74</text></g>
<g id="eB48"><rect class="w" x="489" y="1234" width="34" height="12"/><text x="506" y="1243">1.21.3.6</text></g>
<g id="eB49"><rect class="w" x="489" y="1182" width="34" height="12"/><text x="506" y="1191">1.21.3.6</text></g>
<g id="eB50"><rect class="S" x="291" y="1323" width="34" height="12"/><text x="308" y="1332">2.1.1.104</text></g>
<g id="eB51"><rect class="k5" x="339" y="1378" width="34" height="12"/><text x="356" y="1387">2.3.1.74</text></g>
<g id="eB52"><rect class="k9" x="885" y="1082" width="34" height="12"/><text x="902" y="1091">1.1.1.219</text></g>
<g id="eB53"><rect class="w" x="885" y="1097" width="34" height="12"/><text x="902" y="1106">1.14.20.4</text></g>
<g id="eB54"><rect class="w" x="962" y="1090" width="34" height="12"/><text x="979" y="1099">1.14.20.4</text></g>
<g id="eB55"><rect class="w" x="1020" y="1090" width="34" height="12"/><text x="1037" y="1099">1.3.1.77</text></g>
<g id="eB56"><rect class="p" x="933" y="1106" width="34" height="12"/><text x="950" y="1115">1.17.1.3</text></g>
<g id="eB57"><rect class="k8" x="869" y="1144" width="34" height="12"/><text x="886" y="1153">1.14.20.6</text></g>
<g id="eB58"><rect class="k11" x="823" y="1173" width="34" height="12"/><text x="840" y="1182" textLength="31" lengthAdjust="spacingAndGlyphs">1.14.14.81</text></g>
<g id="eB59"><rect class="w" x="857" y="1173" width="34" height="12"/><text x="874" y="1182" textLength="31" lengthAdjust="spacingAndGlyphs">1.14.14.82</text></g>
<g id="eB60"><rect class="k11" x="885" y="1195" width="34" height="12"/><text x="902" y="1204" textLength="31" lengthAdjust="spacingAndGlyphs">1.14.14.81</text></g>
<g id="eB61"><rect class="w" x="919" y="1195" width="34" height="12"/><text x="936" y="1204" textLength="31" lengthAdjust="spacingAndGlyphs">1.14.14.82</text></g>
<g id="eB62"><rect class="k8" x="870" y="1226" width="34" height="12"/><text x="887" y="1235">1.14.20.6</text></g>
<g id="eB63"><rect class="k9" x="874" y="1258" width="34" height="12"/><text x="891" y="1267">1.1.1.219</text></g>
<g id="eB64"><rect class="w" x="874" y="1273" width="34" height="12"/><text x="891" y="1282">1.14.20.4</text></g>
<g id="eB65"><rect class="w" x="961" y="1266" width="34" height="12"/><text x="978" y="1275">1.14.20.4</text></g>
<g id="eB66"><rect class="w" x="1020" y="1266" width="34" height="12"/><text x="1037" y="1275">1.3.1.77</text></g>
<g id="eB67"><rect class="p" x="933" y="1282" width="34" height="12"/><text x="950" y="1291">1.17.1.3</text></g>
<g id="eB68"><rect class="k11" x="903" y="1355" width="34" height="12"/><text x="920" y="1364" textLength="31" lengthAdjust="spacingAndGlyphs">1.14.14.81</text></g>
<g id="eB69"><rect class="k11" x="840" y="1355" width="34" height="12"/><text x="857" y="1364" textLength="31" lengthAdjust="spacingAndGlyphs">1.14.14.81</text></g>
<g id="eB70"><rect class="k8" x="869" y="1378" width="34" height="12"/><text x="886" y="1387">1.14.20.6</text></g>
<g id="eB71"><rect class="k9" x="885" y="1407" width="34" height="12"/><text x="902" y="1416">1.1.1.219</text></g>
<g id="eB72"><rect class="w" x="961" y="1407" width="34" height="12"/><text x="978" y="1416">1.14.20.4</text></g>
<g id="eB73"><rect class="w" x="1020" y="1407" width="34" height="12"/><text x="1037" y="1416">1.3.1.77</text></g>
<g id="eB74"><rect class="p" x="933" y="1424" width="34" height="12"/><text x="950" y="1433">1.17.1.3</text></g>
</g>

<g id="nodesB" class="n">
<g id="bCinnamoylCoA"><circle cx="305" cy="882" r="6"/><text class="lb m" x="309" y="875">Cinnamoyl-CoA</text></g>
<g id="bPinocembrinChalcone"><circle cx="408" cy="882" r="6"/><text class="lb m" x="425" y="875">Pinocembrin chalcone</text></g>
<g id="bPinocembrin"><circle cx="628" cy="882" r="6"/><text class="lb m" x="629" y="875">Pinocembrin</text></g>
<g id="bChrysin"><circle cx="625" cy="921" r="6"/><text class="lb" x="632" y="925">Chrysin</text></g>
<g id="bPinostrobin"><circle cx="689" cy="906" r="6"/><text class="lb" x="696" y="909">Pinostrobin</text></g>
<g id="bPinobanksin"><circle cx="933" cy="883" r="6"/><text class="lb m" x="933" y="875">Pinobanksin</text></g>
<g id="bPinobanksin3Ac"><circle cx="1026" cy="883" r="6"/><text class="lb" x="1033" y="887">Pinobanksin 3-acetate</text></g>
<g id="bGalangin"><circle cx="933" cy="921" r="6"/><text class="lb" x="940" y="924">Galangin</text></g>
<g id="bIsoliquiritigenin"><circle cx="408" cy="939" r="6"/><text class="lb" x="412" y="953">Isoliquiritigenin</text></g>
<g id="bLiquiritigenin"><circle cx="628" cy="939" r="6"/><text class="lb" x="634" y="953">Liquiritigenin</text></g>
<g id="bGarbanzol"><circle cx="933" cy="939" r="6"/><text class="lb" x="937" y="955">Garbanzol</text></g>
<g id="bDeoxyleucopelargonidin"><circle cx="1026" cy="939" r="6"/><text class="lb" x="1033" y="943">5-Deoxyleucopelargonidin</text></g>
<g id="bDihydroxyflavone"><circle cx="544" cy="980" r="6"/><text class="lb" x="552" y="982">7,4'-Dihydroxy-</text><text class="lb" x="552" y="990">flavone</text></g>
<g id="bButein"><circle cx="408" cy="996" r="6"/><text class="lb m" x="408" y="1009">Butein</text></g>
<g id="bButin"><circle cx="628" cy="996" r="6"/><text class="lb m" x="628" y="1009">Butin</text></g>
<g id="bDihydrofisetin"><circle cx="933" cy="996" r="6"/><text class="lb m" x="936" y="1009">Dihydrofisetin</text></g>
<g id="bDeoxyleucocyanidin"><circle cx="1026" cy="996" r="6"/><text class="lb" x="1033" y="1000">5-Deoxyleucocyanidin</text></g>
<g id="bPrunin"><circle cx="753" cy="1033" r="6"/><text class="lb m" x="749" y="1025">Prunin</text></g>
<g id="bNaringin"><circle cx="813" cy="1033" r="6"/><text class="lb" x="820" y="1037">Naringin</text></g>
<g id="bHesperetin"><circle cx="689" cy="1064" r="6"/><text class="lb m" x="684" y="1056">Hesperetin</text></g>
<g id="bHesperetin7"><circle cx="753" cy="1064" r="6"/><text class="lb m" x="748" y="1047">Hesperetin</text><text class="lb m" x="748" y="1055">7-O-glucoside</text></g>
<g id="bNeohesperidin"><circle cx="813" cy="1064" r="6"/><text class="lb" x="820" y="1068">Neohesperidin</text></g>
<g id="bChalcone2Glc"><circle cx="406" cy="1027" r="6"/><text class="lb" x="413" y="1030">Chalcone 2'-O-glucoside</text></g>
<g id="bDesmethylxanthohumol"><circle cx="443" cy="1065" r="6"/><text class="lb" x="427" y="1049">Desmethyl-</text><text class="lb" x="427" y="1057">xanthohumol</text></g>
<g id="bXanthohumol"><circle cx="504" cy="1064" r="6"/><text class="lb m" x="502" y="1081">Xanthohumol</text></g>
<g id="bMethylxanthohumol"><circle cx="566" cy="1065" r="6"/><text class="lb m" x="566" y="1047">4'-O-Methyl-</text><text class="lb m" x="566" y="1055">xanthohumol</text></g>
<g id="bNaringeninChalcone"><circle cx="408" cy="1095" r="6"/><text class="lb" x="413" y="1091">Naringenin chalcone</text></g>
<g id="bNaringenin"><circle cx="628" cy="1095" r="6"/><text class="lb" x="634" y="1088">Naringenin</text></g>
<g id="bNCGlucoside"><circle cx="479" cy="1137" r="6"/><text class="lb m" x="467" y="1121">Naringenin chalcone</text><text class="lb m" x="467" y="1129">4'-O-glucoside</text></g>
<g id="bAureusidin"><circle cx="540" cy="1137" r="6"/><text class="lb" x="547" y="1137">Aureusidin</text><text class="lb" x="547" y="1145">6-O-glucoside</text></g>
<g id="bPCoumaroylCoA"><circle cx="307" cy="1095" r="6"/><text class="lb m" x="309" y="1111">p-Coumaroyl-CoA</text></g>
<g id="bDihydrokaempferol"><circle cx="857" cy="1095" r="6"/><text class="lb m" x="848" y="1087">Dihydrokaempferol</text></g>
<g id="bLeucopelargonidin"><circle cx="949" cy="1095" r="6"/><text class="lb m" x="953" y="1086">Leucopelargonidin</text></g>
<g id="bPelargonidin"><circle cx="1011" cy="1095" r="6"/><text class="lb m" x="1010" y="1111">Pelargonidin</text></g>
<g id="bEpiafzelechin"><circle cx="1072" cy="1095" r="6"/><text class="lb m" x="1078" y="1086">(-)-Epiafzelechin</text></g>
<g id="bAfzelechin"><circle cx="950" cy="1136" r="6"/><text class="lb" x="957" y="1139">(+)-Afzelechin</text></g>
<g id="bApiforol"><circle cx="689" cy="1123" r="6"/><text class="lb" x="696" y="1127">Apiforol</text></g>
<g id="bKaempferol"><circle cx="918" cy="1149" r="6"/><text class="lb m" x="917" y="1140">Kaempferol</text></g>
<g id="bGlucosylnaringenin"><circle cx="689" cy="1163" r="6"/><text class="lb m" x="688" y="1154">8-C-Glucosylnaringenin</text></g>
<g id="bVitexin"><circle cx="752" cy="1163" r="6"/><text class="lb m" x="752" y="1154">Vitexin</text></g>
<g id="bPCShikimic"><circle cx="268" cy="1156" r="6"/><text class="lb r" x="261" y="1156">p-Coumaroyl</text><text class="lb r" x="261" y="1165">shikimic acid</text></g>
<g id="bPCQuinic"><circle cx="348" cy="1156" r="6"/><text class="lb" x="355" y="1156">p-Coumaroyl</text><text class="lb" x="355" y="1165">quinic acid</text></g>
<g id="bApigenin"><circle cx="689" cy="1188" r="6"/><text class="lb m" x="689" y="1180">Apigenin</text></g>
<g id="bCafShikimic"><circle cx="268" cy="1210" r="6"/><text class="lb r" x="261" y="1210">Caffeoyl</text><text class="lb r" x="261" y="1218">shikimic acid</text></g>
<g id="bCafQuinic"><circle cx="348" cy="1210" r="6"/><text class="lb" x="355" y="1209">Caffeoyl</text><text class="lb" x="355" y="1217">quinic acid</text></g>
<g id="bQuercetin"><circle cx="918" cy="1232" r="6"/><text class="lb" x="925" y="1235">Quercetin</text></g>
<g id="bPHCGlucoside"><circle cx="479" cy="1239" r="6"/><text class="lb m" x="467" y="1255">2',3,4,4',6-Pentahydroxy</text><text class="lb m" x="467" y="1263">-chalcone 4'-O-glucoside</text></g>
<g id="bBracteatin"><circle cx="540" cy="1239" r="6"/><text class="lb" x="547" y="1240">Bracteatin</text><text class="lb" x="547" y="1249">6-O-glucoside</text></g>
<g id="bCaffeoylCoA"><circle cx="307" cy="1271" r="6"/><text class="lb m" x="279" y="1283">Caffeoyl-CoA</text></g>
<g id="bPentahydroxychalcone"><circle cx="407" cy="1271" r="6"/><text class="lb" x="413" y="1284">2',3,4,4',6-Pentahydroxychalcone</text></g>
<g id="bEriodictyol"><circle cx="628" cy="1271" r="6"/><text class="lb" x="634" y="1284">Eriodictyol</text></g>
<g id="bDihydroquercetin"><circle cx="857" cy="1272" r="6"/><text class="lb m" x="824" y="1283">Dihydroquercetin</text></g>
<g id="bLeucocyanidin"><circle cx="950" cy="1272" r="6"/><text class="lb m" x="945" y="1263">Leucocyanidin</text></g>
<g id="bCyanidin"><circle cx="1011" cy="1272" r="6"/><text class="lb m" x="1008" y="1263">Cyanidin</text></g>
<g id="bEpicatechin"><circle cx="1072" cy="1272" r="6"/><text class="lb m" x="1078" y="1263">(-)-Epicatechin</text></g>
<g id="bLuteolin"><circle cx="689" cy="1299" r="6"/><text class="lb m" x="689" y="1313">Luteolin</text></g>
<g id="bCatechin"><circle cx="950" cy="1311" r="6"/><text class="lb m" x="950" y="1325">(+)-Catechin</text></g>
<g id="bLuteoforol"><circle cx="689" cy="1338" r="6"/><text class="lb" x="696" y="1341">Luteoforol</text></g>
<g id="bHomoeriodictyol"><circle cx="551" cy="1383" r="6"/><text class="lb m" x="551" y="1398">Homoeriodictyol</text></g>
<g id="bFeruloylCoA"><circle cx="307" cy="1383" r="6"/><text class="lb m" x="307" y="1398">Feruloyl-CoA</text></g>
<g id="bTetrahydroxy"><circle cx="407" cy="1383" r="6"/><text class="lb m" x="408" y="1400">4,2',4',6'-Tetrahydroxy-</text><text class="lb m" x="408" y="1407">3-methoxychalcone</text></g>
<g id="bTricetin"><circle cx="689" cy="1384" r="6"/><text class="lb m" x="689" y="1398">Tricetin</text></g>
<g id="bMyricetin"><circle cx="918" cy="1384" r="6"/><text class="lb" x="925" y="1387">Myricetin</text></g>
<g id="bDihydrotricetin"><circle cx="627" cy="1413" r="6"/><text class="lb m" x="628" y="1428">Dihydrotricetin</text></g>
<g id="bDihydromyricetin"><circle cx="857" cy="1413" r="6"/><text class="lb m" x="857" y="1428">Dihydromyricetin</text></g>
<g id="bLeucodelphinidin"><circle cx="950" cy="1413" r="6"/><text class="lb m" x="950" y="1405">Leucodelphinidin</text></g>
<g id="bDelphinidin"><circle cx="1011" cy="1413" r="6"/><text class="lb m" x="1011" y="1405">Delphinidin</text></g>
<g id="bEpigallocatechin"><circle cx="1072" cy="1413" r="6"/><text class="lb m" x="1078" y="1405">(-)-Epigallocatechin</text></g>
<g id="bGallocatechin"><circle cx="950" cy="1452" r="6"/><text class="lb m" x="950" y="1467">(+)-Gallocatechin</text></g>
</g>
<text class="kg" x="184" y="1481">Data on KEGG graph</text>
<text class="kg" x="184" y="1492">Rendered by Pathview</text>

<text x="24" y="1549" font-family="Liberation Sans,Arial,sans-serif" font-size="18" fill="#222"><tspan font-weight="bold">FIGURE 4 |</tspan> Continued.</text>
</svg>
